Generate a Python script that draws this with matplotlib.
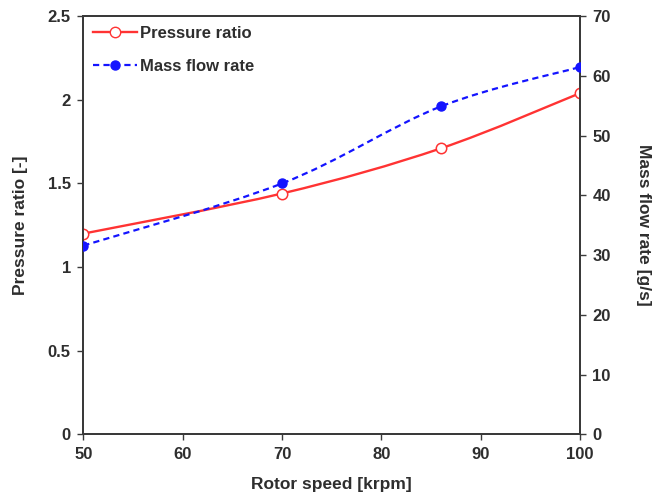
import numpy as np
import matplotlib
matplotlib.use('Agg')
import matplotlib.pyplot as plt
from matplotlib.path import Path
from matplotlib.patches import PathPatch
from matplotlib.lines import Line2D

plt.rcParams['font.family'] = ['Liberation Sans', 'DejaVu Sans']
plt.rcParams['font.weight'] = 'bold'

rotor_speed = [50, 70, 86, 100]
pressure_ratio = [1.20, 1.44, 1.71, 2.04]
mass_flow = [31.6, 42.0, 54.9, 61.5]


def smooth_path(xs, ys):
    # excel-style smoothed line: cubic bezier through each point
    xs = np.asarray(xs, float)
    ys = np.asarray(ys, float)
    n = len(xs)
    verts = [(xs[0], ys[0])]
    codes = [Path.MOVETO]
    for i in range(n - 1):
        p0 = (xs[max(i - 1, 0)], ys[max(i - 1, 0)])
        p1 = (xs[i], ys[i])
        p2 = (xs[i + 1], ys[i + 1])
        p3 = (xs[min(i + 2, n - 1)], ys[min(i + 2, n - 1)])
        c1 = (p1[0] + (p2[0] - p0[0]) / 6, p1[1] + (p2[1] - p0[1]) / 6)
        c2 = (p2[0] - (p3[0] - p1[0]) / 6, p2[1] - (p3[1] - p1[1]) / 6)
        verts += [c1, c2, p2]
        codes += [Path.CURVE4] * 3
    return Path(verts, codes)


fig, ax = plt.subplots(figsize=(6.56, 4.94), dpi=100)
fig.subplots_adjust(left=0.127, right=0.884, top=0.967, bottom=0.121)
ax2 = ax.twinx()

red = '#ff3333'
blue = '#1414ff'
txt = '#2e2e2e'

ax.add_patch(PathPatch(smooth_path(rotor_speed, pressure_ratio), fill=False,
                       edgecolor=red, lw=1.7, zorder=3))
ax.plot(rotor_speed, pressure_ratio, ls='none', marker='o', ms=7.5,
        mfc='white', mec=red, mew=1.1, zorder=4)

ax2.add_patch(PathPatch(smooth_path(rotor_speed, mass_flow), fill=False,
                        edgecolor=blue, lw=1.6, ls=(0, (2.8, 1.9)), zorder=3))
ax2.plot(rotor_speed, mass_flow, ls='none', marker='o', ms=6.5,
         mfc=blue, mec=blue, zorder=4)

ax.set_xlim(50, 100)
ax.set_ylim(0, 2.5)
ax2.set_ylim(0, 70)
ax.set_xticks([50, 60, 70, 80, 90, 100])
ax.set_yticks([0, 0.5, 1, 1.5, 2, 2.5])
ax.set_yticklabels(['0', '0.5', '1', '1.5', '2', '2.5'])
ax2.set_yticks([0, 10, 20, 30, 40, 50, 60, 70])

for a in (ax, ax2):
    for s in a.spines.values():
        s.set_color('#3a3a3a')
        s.set_linewidth(1.4)
    a.tick_params(direction='out', length=4, width=1, color='#3a3a3a',
                  labelsize=12, labelcolor=txt, pad=5)

ax.set_xlabel('Rotor speed [krpm]', fontsize=12.5, fontweight='bold', color=txt, labelpad=11)
ax.set_ylabel('Pressure ratio [-]', fontsize=12.5, fontweight='bold', color=txt, labelpad=14)
ax2.set_ylabel('Mass flow rate [g/s]', fontsize=12.5, fontweight='bold', color=txt,
               rotation=270, labelpad=29)

handles = [
    Line2D([], [], color=red, lw=1.7, marker='o', ms=7.5, mfc='white', mec=red),
    Line2D([], [], color=blue, lw=1.6, ls=(0, (2.8, 1.9)), marker='o', ms=6.5, mfc=blue, mec=blue),
]
leg = ax.legend(handles, ['Pressure ratio', 'Mass flow rate'], loc='upper left',
                frameon=False, fontsize=12, handlelength=2.6, handletextpad=0.2,
                labelspacing=1.05, borderaxespad=0.2, borderpad=0.4)
for t in leg.get_texts():
    t.set_color(txt)

fig.savefig('out.png', dpi=100)
